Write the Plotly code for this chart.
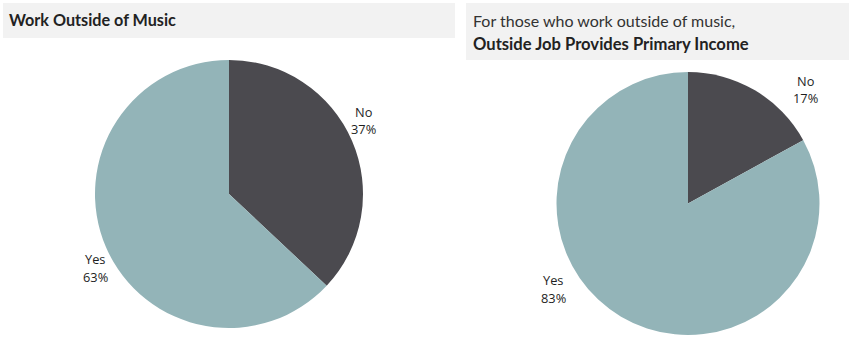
import plotly.graph_objects as go

# Survey answers
labels = ["No", "Yes"]
work_outside = [37, 63]
primary_income = [17, 83]

colors = ["#4b4a4f", "#93b4b8"]
W, H = 849, 343
TITLE_FONT = "Lato, 'Open Sans', sans-serif"
LABEL_FONT = "'Open Sans', Lato, sans-serif"


def px_x(x):
    return x / W


def px_y(y):
    return 1 - y / H


fig = go.Figure()

pie_style = dict(
    sort=False,
    direction="clockwise",
    rotation=0,
    textinfo="none",
    hoverinfo="skip",
    showlegend=False,
    marker=dict(colors=colors, line=dict(width=0)),
)

fig.add_trace(go.Pie(
    labels=labels, values=work_outside,
    domain=dict(x=[px_x(95), px_x(363)], y=[px_y(328), px_y(60)]),
    **pie_style,
))
fig.add_trace(go.Pie(
    labels=labels, values=primary_income,
    domain=dict(x=[px_x(556.5), px_x(819.5)], y=[px_y(335), px_y(72)]),
    **pie_style,
))

# Grey title bands
shapes = [
    dict(type="rect", xref="paper", yref="paper",
         x0=px_x(3), x1=px_x(455), y0=px_y(38), y1=px_y(3),
         fillcolor="#f2f2f2", line=dict(width=0), layer="below"),
    dict(type="rect", xref="paper", yref="paper",
         x0=px_x(466), x1=px_x(849), y0=px_y(60), y1=px_y(3),
         fillcolor="#f2f2f2", line=dict(width=0), layer="below"),
]

annotations = [
    dict(text="<b>Work Outside of Music</b>", x=px_x(7), y=px_y(20),
         xanchor="left", yanchor="middle", showarrow=False,
         font=dict(size=16.2, color="#222222", family=TITLE_FONT)),
    dict(text="For those who work outside of music,", x=px_x(471), y=px_y(21),
         xanchor="left", yanchor="middle", showarrow=False,
         font=dict(size=16, color="#333333", family=TITLE_FONT)),
    dict(text="<b>Outside Job Provides Primary Income</b>", x=px_x(471), y=px_y(44),
         xanchor="left", yanchor="middle", showarrow=False,
         font=dict(size=16.6, color="#222222", family=TITLE_FONT)),
]

# Slice labels: category name above, share of the total below
label_pos = [
    (work_outside, [(363, 112, 129), (95, 259, 277)]),
    (primary_income, [(805, 81, 98), (553, 280, 298)]),
]
for values, positions in label_pos:
    total = sum(values)
    for lab, val, (lx, y_name, y_pct) in zip(labels, values, positions):
        for txt, ly in ((lab, y_name), (f"{round(100 * val / total)}%", y_pct)):
            annotations.append(dict(
                text=txt, x=px_x(lx), y=px_y(ly),
                xanchor="center", yanchor="middle", showarrow=False,
                font=dict(size=12.8, color="#1e1e1e", family=LABEL_FONT),
            ))

fig.update_layout(
    width=W, height=H,
    margin=dict(l=0, r=0, t=0, b=0),
    paper_bgcolor="white", plot_bgcolor="white",
    shapes=shapes, annotations=annotations,
)

fig.write_html("out.html")
